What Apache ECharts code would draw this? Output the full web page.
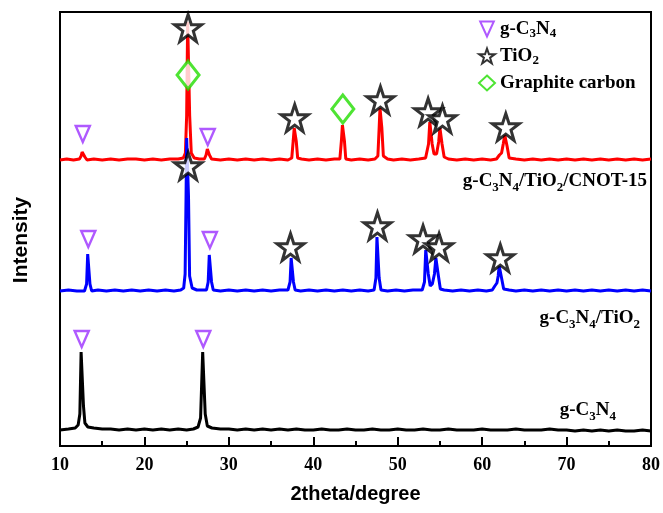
<!DOCTYPE html>
<html>
	<head>
		<meta charset="UTF-8">
		<title>XRD</title>
		<script src="https://cdn.jsdelivr.net/npm/echarts@6/dist/echarts.min.js"></script>
		<style type="text/css">
			html, body { margin: 0; padding: 0; background: #fff; }
		</style>
	</head>
	<body>
		<div id="box" style="width:663px;height:513px;"></div>

		<script type="text/javascript">
			// x ticks
			var xTicks = [10, 20, 30, 40, 50, 60, 70, 80];

			// traces, offset upward (arbitrary intensity units)
			var redTrace = [[10,286],[10.8,287],[11.6,286],[12.3,287],[12.5,290],[12.62,294],[12.72,296],[12.82,294],[12.95,289],[13.2,286],[14,287],[15,286],[16,287],[17,286],[18,287],[19,287],[20,286],[21,287],[22,286],[23,287],[24,287],[24.6,288],[24.85,293],[25.0,330],[25.12,424],[25.24,424],[25.36,330],[25.55,293],[25.9,288],[26.5,287],[27.1,287],[27.3,291],[27.45,297],[27.55,297],[27.7,291],[27.95,287],[29,286],[30,287],[31,286],[32,287],[33,286],[34,287],[35,286],[36,287],[37,286],[37.45,288],[37.62,305],[37.74,318],[37.86,318],[37.98,305],[38.15,288],[38.6,287],[39.5,286],[40.5,287],[41.5,286],[42.5,287],[43.15,287],[43.33,305],[43.45,321],[43.57,321],[43.69,305],[43.85,287],[44.5,286],[45.5,287],[46.5,286],[47.3,287],[47.65,290],[47.8,318],[47.9,338],[48.0,338],[48.12,318],[48.3,290],[48.8,287],[49.5,286],[50.5,287],[51.5,286],[52.5,287],[53.3,288],[53.65,302],[53.8,324],[53.92,324],[54.08,302],[54.3,292],[54.6,292],[54.85,304],[55.0,318],[55.1,318],[55.25,302],[55.5,289],[56,287],[57,286],[58,287],[59,286],[60,287],[61,286],[61.7,287],[62.05,291],[62.3,293],[62.5,302],[62.68,311],[62.8,311],[62.95,300],[63.2,288],[64,287],[65,286],[66,287],[67,286],[68,287],[69,286],[70,287],[71,286],[72,287],[73,286],[74,287],[75,286],[76,287],[77,286],[78,287],[79,286],[80,287]];
			var blueTrace = [[10,155],[11,156],[12,155],[12.9,155],[13.15,162],[13.28,192],[13.42,192],[13.55,162],[13.75,155],[14.5,156],[15.5,155],[16.5,156],[17.5,155],[18.5,156],[19.5,155],[20.5,156],[21.5,155],[22.5,156],[23.5,155],[24.3,156],[24.65,158],[24.82,172],[24.93,250],[25.0,308],[25.12,308],[25.22,250],[25.35,170],[25.65,158],[26.2,156],[27.35,156],[27.55,164],[27.68,191],[27.82,191],[27.95,164],[28.15,156],[29,155],[30,156],[31,155],[32,156],[33,155],[34,156],[35,155],[36,156],[37,156],[37.25,164],[37.38,188],[37.52,188],[37.65,164],[37.85,156],[38.5,155],[39.5,156],[40.5,155],[41.5,156],[42.5,155],[43.5,156],[44.5,155],[45.5,156],[46.5,155],[47.2,156],[47.42,168],[47.54,209],[47.68,209],[47.8,168],[48.02,156],[48.8,155],[49.8,156],[50.8,155],[51.8,156],[52.9,156],[53.17,164],[53.32,196],[53.46,196],[53.62,172],[53.85,160],[54.1,162],[54.35,172],[54.52,188],[54.66,188],[54.82,170],[55.05,157],[55.5,156],[56.5,155],[57.5,156],[58.5,155],[59.5,156],[60.5,155],[61.2,156],[61.5,160],[61.75,163],[61.9,170],[62.02,180],[62.15,180],[62.3,168],[62.55,157],[63.2,156],[64,155],[65,156],[66,155],[67,156],[68,155],[69,156],[70,155],[71,156],[72,155],[73,156],[74,155],[75,156],[76,155],[77,156],[78,155],[79,156],[80,155]];
			var blackTrace = [[10,16],[11,17],[11.8,18],[12.15,21],[12.35,32],[12.5,94],[12.64,94],[12.78,40],[12.95,23],[13.3,19],[14,18],[15,17],[16,17],[17,16],[18,17],[19,16],[20,17],[21,16],[22,17],[23,16],[24,17],[25,16],[25.8,17],[26.35,19],[26.65,28],[26.9,94],[27.04,94],[27.2,32],[27.45,20],[28,18],[29,17],[30,17],[31,16],[32,17],[33,16],[34,17],[35,16],[36,17],[37,16],[38,17],[39,16],[40,16],[41,17],[42,16],[43,16],[44,17],[45,16],[46,16],[47,17],[48,16],[49,16],[50,17],[51,16],[52,16],[53,17],[54,16],[55,16],[56,17],[57,16],[58,16],[59,16],[60,17],[61,16],[62,16],[63,16],[64,17],[65,16],[66,16],[67,16],[68,17],[69,16],[70,16],[71,15],[72,16],[73,15],[74,16],[75,15],[76,16],[77,15],[78,15],[79,16],[80,15]];

			// phase markers above peaks
			var triMarks = [[12.7,312],[27.5,309],[13.35,207],[27.75,206],[12.57,107],[26.97,107]];
			var starMarks = [[25.17,418],[37.8,328],[47.95,346],[53.6,334],[55.3,327],[62.8,319],[25.18,280],[37.3,199],[47.6,220],[53.0,207],[54.9,199],[62.15,188]];
			var diamondMarks = [[25.17,371],[43.5,337]];

			var legendNames = ['g-C3N4', 'TiO2', 'Graphite carbon'];

			var starPath = 'path://M50,0 L62,35 L99,35 L69,57 L80,93 L50,71 L20,93 L31,57 L1,35 L38,35 Z';
			var triPath = 'path://M0,0 L10,0 L5,11 Z';

			var serif = '"Liberation Serif", "Times New Roman", serif';
			var sans = '"Liberation Sans", Arial, sans-serif';
			var subRich = {
				s: { fontFamily: serif, fontWeight: 'bold', fontSize: 13, verticalAlign: 'bottom', lineHeight: 12, color: '#000' }
			};

			function labelTitle(text, right, top) {
				return {
					text: text,
					right: right,
					top: top,
					padding: 0,
					textStyle: {
						fontFamily: serif, fontWeight: 'bold', fontSize: 19, color: '#000', lineHeight: 26,
						rich: {
							s: { fontFamily: serif, fontWeight: 'bold', fontSize: 13, verticalAlign: 'bottom', lineHeight: 14, color: '#000' }
						}
					}
				};
			}

			var myChart = echarts.init(document.getElementById('box'));

			var option = {
				backgroundColor: '#fff',
				animation: false,
				title: [
					labelTitle('g-C{s|3}N{s|4}/TiO{s|2}/CNOT-15', 16, 168),
					labelTitle('g-C{s|3}N{s|4}/TiO{s|2}', 23, 305),
					labelTitle('g-C{s|3}N{s|4}', 47, 397)
				],
				legend: {
					data: legendNames,
					orient: 'vertical',
					left: 473,
					top: 13,
					itemGap: 5,
					itemWidth: 16,
					itemHeight: 15,
					formatter: function (name) {
						if (name === 'g-C3N4') return 'g-C{s|3}N{s|4}';
						if (name === 'TiO2') return 'TiO{s|2}';
						return name;
					},
					textStyle: {
						fontFamily: serif, fontWeight: 'bold', fontSize: 19, color: '#000', lineHeight: 22,
						rich: subRich
					}
				},
				grid: {
					left: 60,
					right: 12,
					top: 12,
					bottom: 67,
					show: true,
					borderColor: '#000',
					borderWidth: 2
				},
				xAxis: {
					type: 'value',
					min: 10,
					max: 80,
					interval: 10,
					name: '2theta/degree',
					nameLocation: 'middle',
					nameGap: 38,
					nameTextStyle: { fontFamily: sans, fontWeight: 'bold', fontSize: 20, color: '#000' },
					axisLine: { show: true, lineStyle: { color: '#000', width: 2 } },
					axisTick: { show: true, inside: true, length: 9, lineStyle: { color: '#000', width: 2 } },
					minorTick: { show: true, splitNumber: 2, length: 5, lineStyle: { color: '#000', width: 2 } },
					axisLabel: { margin: 10, fontFamily: serif, fontWeight: 'bold', fontSize: 18, color: '#000',
						formatter: function (v) { return xTicks.indexOf(v) >= 0 ? String(v) : ''; } },
					splitLine: { show: false }
				},
				yAxis: {
					type: 'value',
					min: 0,
					max: 434,
					name: 'Intensity',
					nameLocation: 'middle',
					nameGap: 28,
					nameTextStyle: { fontFamily: sans, fontWeight: 'bold', fontSize: 21, color: '#000', padding: [0, 22, 0, 0] },
					axisLine: { show: false },
					axisTick: { show: false },
					axisLabel: { show: false },
					splitLine: { show: false }
				},
				series: [
					{ name: 'red', type: 'line', data: redTrace, showSymbol: false, symbol: 'none',
						lineStyle: { color: '#ff0000', width: 3 }, z: 2 },
					{ name: 'blue', type: 'line', data: blueTrace, showSymbol: false, symbol: 'none',
						lineStyle: { color: '#0000ff', width: 3 }, z: 3 },
					{ name: 'black', type: 'line', data: blackTrace, showSymbol: false, symbol: 'none',
						lineStyle: { color: '#000000', width: 3 }, z: 2 },
					{ name: 'g-C3N4', type: 'scatter', data: triMarks, symbol: triPath, symbolSize: [14, 16],
						itemStyle: { color: '#fff', borderColor: '#9b30ff', borderWidth: 2.5 }, z: 5 },
					{ name: 'TiO2', type: 'scatter', data: starMarks, symbol: starPath, symbolSize: 27,
						itemStyle: { color: '#fff', borderColor: '#000', borderWidth: 3 }, z: 5 },
					{ name: 'Graphite carbon', type: 'scatter', data: diamondMarks, symbol: 'diamond', symbolSize: [22, 28],
						itemStyle: { color: '#fff', borderColor: '#22dd00', borderWidth: 3 }, z: 5 }
				]
			};
			myChart.setOption(option);
		</script>
	</body>
</html>
